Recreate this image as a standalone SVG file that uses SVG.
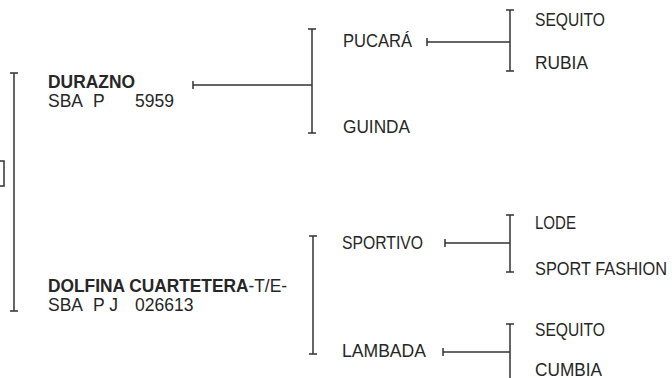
<svg xmlns="http://www.w3.org/2000/svg" width="672" height="378" viewBox="0 0 672 378">
<style>
.t{font-family:"Liberation Sans",Arial,sans-serif;font-size:17.5px;fill:#262626}
.b{font-weight:bold}
.ln{stroke:#333;stroke-width:1.5;fill:none}
</style>
<rect width="672" height="378" fill="#fff"/>
<g id="connectors" class="ln">
<path d="M14 73V311M10 73H18M10 311H18"/>
<rect x="-10" y="161" width="14" height="25"/>
<path d="M193 81V89M193 85H312M312 29V133M308 29H316M308 133H316"/>
<path d="M427 38V46M427 42H510M510 10V71M506 10H514M506 71H514"/>
<path d="M313 236V354M309 236H317M309 354H317"/>
<path d="M445 239V247M445 243H510M510 215V272M506 215H514M506 272H514"/>
<path d="M443 348V356M443 352H510M510 324V380M506 324H514"/>
</g>
<g id="durazno"><text class="t b" x="48" y="88" textLength="87" lengthAdjust="spacingAndGlyphs">DURAZNO</text>
<text class="t" y="107"><tspan x="48">SBA </tspan><tspan x="93">P </tspan><tspan x="135">5959</tspan></text></g>
<g id="dolfina"><text class="t" x="48" y="292" textLength="239" lengthAdjust="spacingAndGlyphs"><tspan class="b">DOLFINA CUARTETERA</tspan>-T/E-</text>
<text class="t" y="311"><tspan x="48">SBA </tspan><tspan x="93">P J </tspan><tspan x="135">026613</tspan></text></g>
<g id="pucara"><text class="t" x="343" y="47" textLength="69" lengthAdjust="spacingAndGlyphs">PUCARÁ</text></g>
<g id="guinda"><text class="t" x="343" y="133" textLength="67" lengthAdjust="spacingAndGlyphs">GUINDA</text></g>
<g id="sequito1"><text class="t" x="535" y="26" textLength="70" lengthAdjust="spacingAndGlyphs">SEQUITO</text></g>
<g id="rubia"><text class="t" x="535" y="69" textLength="53" lengthAdjust="spacingAndGlyphs">RUBIA</text></g>
<g id="sportivo"><text class="t" x="342" y="249" textLength="81" lengthAdjust="spacingAndGlyphs">SPORTIVO</text></g>
<g id="lambada"><text class="t" x="342" y="357" textLength="84" lengthAdjust="spacingAndGlyphs">LAMBADA</text></g>
<g id="lode"><text class="t" x="535" y="229" textLength="41" lengthAdjust="spacingAndGlyphs">LODE</text></g>
<g id="sportfashion"><text class="t" x="535" y="275" textLength="132" lengthAdjust="spacingAndGlyphs">SPORT FASHION</text></g>
<g id="sequito2"><text class="t" x="535" y="336" textLength="70" lengthAdjust="spacingAndGlyphs">SEQUITO</text></g>
<g id="cumbia"><text class="t" x="535" y="376" textLength="67" lengthAdjust="spacingAndGlyphs">CUMBIA</text></g>
</svg>
